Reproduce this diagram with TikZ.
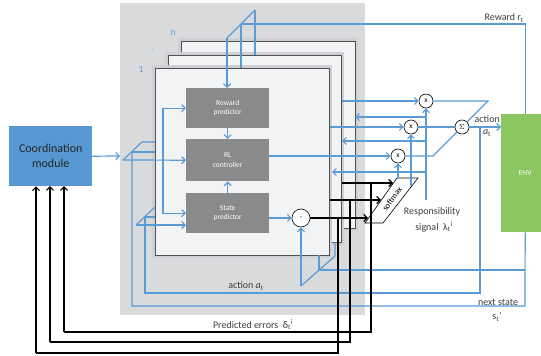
\documentclass[tikz,border=0pt]{standalone}
\usepackage{fontspec}
\setmainfont{Carlito}
\usetikzlibrary{arrows.meta}
\definecolor{bggray}{RGB}{217,218,220}
\definecolor{halo}{RGB}{207,208,211}
\definecolor{panelfill}{RGB}{242,243,245}
\definecolor{paneledge}{RGB}{80,80,80}
\definecolor{boxgray}{RGB}{137,138,140}
\definecolor{wire}{RGB}{91,155,213}
\definecolor{coordblue}{RGB}{86,152,210}
\definecolor{envgreen}{RGB}{140,198,96}
\definecolor{txt}{RGB}{60,60,60}
\tikzset{
  bw/.style={draw=wire, line width=1.2pt},
  ba/.style={bw, -{Straight Barb[length=3.5pt,width=7pt]}},
  kw/.style={draw=black, line width=1.1pt},
  ka/.style={kw, -{Straight Barb[length=3.5pt,width=7pt]}},
  panelbox/.style={draw=paneledge, fill=panelfill, line width=0.8pt},
  modbox/.style={fill=boxgray, text=white, font=\fontsize{7.5}{9.5}\selectfont, align=center, inner sep=0pt, minimum width=83pt, minimum height=40pt, anchor=north west},
  opcirc/.style={circle, draw=black, fill=white, line width=0.6pt, minimum size=14pt, inner sep=0pt, font=\fontsize{7.5}{7.5}\selectfont},
  lbl/.style={text=txt, font=\fontsize{10}{11}\selectfont, inner sep=0pt},
}
\begin{document}
\begin{tikzpicture}[x=1pt,y=-1pt]
\useasboundingbox (0,0) rectangle (541,356);
% background gray area
\fill[bggray] (120,3) rectangle (365,315);
% panels n, 2, 1
\fill[halo] (178,38) rectangle (358,231);
\draw[panelbox] (181,41) rectangle (355,228);
\fill[halo] (165,52) rectangle (344,245);
\draw[panelbox] (168,55) rectangle (341,242);
\fill[halo] (152,65) rectangle (332,258);
\draw[panelbox] (155,68) rectangle (329,255);
% panel labels
\node[text=wire, font=\fontsize{9.5}{9.5}\selectfont] (l1) at (141,69) {1};
\node[text=wire, font=\fontsize{9.5}{9.5}\selectfont] (ln) at (173,33) {n};
\node[text=wire, font=\fontsize{5}{5}\selectfont, rotate=45] (ldots) at (153,50) {...};
% modules
\node[modbox] (rp) at (186,88) {Reward\\predictor};
\node[modbox, minimum height=42pt] (rl) at (186,139) {RL\\controller};
\node[modbox] (sp) at (186,193) {State\\predictor};
\node[fill=coordblue, minimum width=83pt, minimum height=60pt, anchor=north west, inner sep=0pt,
      font=\fontsize{12}{15}\selectfont, align=center, text=black!85] (coord) at (9,126) {Coordination\\module};
\node[fill=envgreen, minimum width=48pt, minimum height=118pt, anchor=north west, inner sep=0pt,
      text=white, font=\fontsize{7.5}{7.5}\selectfont] (env) at (501,114) {ENV};
% operator circles
\node[opcirc] (x1) at (426,101) {x};
\node[opcirc] (x2) at (411,127) {x};
\node[opcirc] (x3) at (398,156) {x};
\node[opcirc] (sig) at (462,127) {$\Sigma$};
\node[opcirc, minimum size=18pt] (minus) at (301,218) {-};
% softmax
\draw[fill=white, line width=0.6pt] (365,223) -- (383,223) -- (418,178) -- (397,178) -- cycle;
\node[rotate=54, font=\fontsize{8.5}{8.5}\selectfont] (smx) at (392,199) {softmax};
% coordination output
\draw[ba] (coord.east) -- (120,156);
% state fan (left)
\coordinate (sfa) at (123,160);
\coordinate (sfb) at (132,152);
\coordinate (sfc) at (142,142);
\draw[bw] (sfa) -- (sfc) -- (155,142);
\draw[bw] (sfb) -- (155,152);
\draw[ba] (sfa) -- (rl.west);
\coordinate (sj) at (163,160);
\draw[ba] (sj) |- (rp.west);
\draw[ba] (sj) |- (sp.west);
% action fan
\coordinate (afa) at (136,225);
\coordinate (afb) at (145,217);
\draw[bw] (afa) -- (155,207);
\draw[bw] (afb) -- (155,217);
\draw[ba] (afa) -- (186,225);
% internal arrows
\draw[ba] (rp.south) -- (rl.north);
\draw[ba] (sp.north) -- (rl.south);
\draw[ba] (269,218) -- (minus.west);
% top reward fan
\coordinate (tfa) at (227,38);
\coordinate (tfb) at (241,24);
\coordinate (tfc) at (255,10);
\draw[bw] (tfa) -- (tfc);
\draw[ba] (tfa) -- (rp.north -| tfa);
\draw[bw] (tfb) -- (241,68);
\draw[bw] (tfc) -- (255,55);
\draw[bw] (tfb) -| (env.north);
% RL outputs to multipliers
\draw[ba] (269,156) -- (x3.west);
\draw[ba] (330,127) -- (x2.west);
\draw[ba] (342,101) -- (x1.west);
% multiplier outputs and sum bus
\coordinate (sbt) at (488,101);
\coordinate (sbb) at (433,156);
\draw[bw] (x1.east) -- (sbt) -- (sig.north east);
\draw[bw] (sig.south west) -- (sbb) -- (x3.east);
\draw[bw] (x2.east) -- (sig.west);
\draw[ba] (sig.east) -- (env.west |- sig);
% action branch
\coordinate (ab) at (480,127);
\draw[bw] (ab) -- (480,293) -| (afb);
% responsibility signals
\draw[ba] (426,200) -- (x1.south);
\draw[ba] (411,186) -- (x2.south);
\draw[ba] (398,178) -- (x3.south);
\draw[ba] (426,117) -- (355,117);
\draw[ba] (426,141) -- (342,141);
\draw[ba] (426,172) -- (332,172);
% next state
\draw[bw] (env.south) -- (525,306) -| (sfb);
\coordinate (nsj) at (319,270);
\draw[bw] (525,270) -- (nsj);
\coordinate (nfa) at (301,286);
\coordinate (nfc) at (335,256);
\draw[bw] (nfa) -- (nfc) -- (335,242);
\draw[bw] (nsj) -- (319,255);
\draw[ba] (nfa) -- (minus.south);
% black error lines
\draw[ka] (minus.east) -- (368,218);
\draw[ka] (330,200) -- (381,200);
\draw[ka] (342,183) -- (393,183);
\draw[kw] (338,218) -- (338,353) -- (36,353);
\draw[kw] (350,200) -- (350,342) -- (50,342);
\draw[kw] (371,183) -- (371,332) -- (64,332);
\draw[ka] (36,353) -- (coord.south -| 36,0);
\draw[ka] (50,342) -- (50,186);
\draw[ka] (64,332) -- (64,186);
% labels
\node[lbl, anchor=east] (lrew) at (524,18) {Reward r\textsubscript{t}};
\node[lbl, anchor=east] (lact) at (500,119) {action};
\node[lbl] (lat) at (487,133) {\textit{a}\textsubscript{t}};
\node[lbl] (lresp) at (432,212) {Responsibility};
\node[lbl] (lsig) at (434,227) {signal\ \ λ\textsubscript{t}\textsuperscript{i}};
\node[lbl] (lact2) at (246,286) {action \textit{a}\textsubscript{t}};
\node[lbl] (lerr) at (253,325) {Predicted errors\ \ δ\textsubscript{t}\textsuperscript{i}};
\node[lbl] (lns) at (498,302) {next state};
\node[lbl] (lst) at (497,317) {s\textsubscript{t}'};
\end{tikzpicture}
\end{document}
